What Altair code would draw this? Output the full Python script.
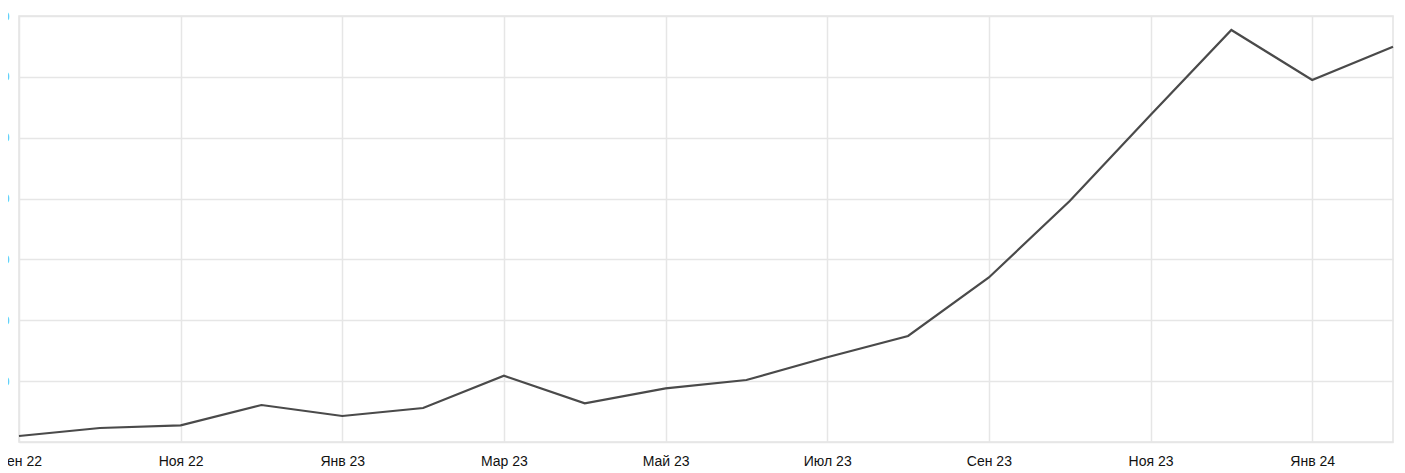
import altair as alt
import pandas as pd

months = ["Сен 22", "Окт 22", "Ноя 22", "Дек 22", "Янв 23", "Фев 23", "Мар 23",
          "Апр 23", "Май 23", "Июн 23", "Июл 23", "Авг 23", "Сен 23", "Окт 23",
          "Ноя 23", "Дек 23", "Янв 24", "Фев 24"]
values = [0.99, 2.30, 2.74, 6.08, 4.27, 5.59, 10.89, 6.36, 8.82, 10.19, 13.92,
          17.42, 27.03, 39.6, 53.73, 67.70, 59.48, 64.96]
shown_months = months[::2]
y_ticks = [0, 10, 20, 30, 40, 50, 60, 70]

df = pd.DataFrame({"month": months, "value": values})

chart = alt.Chart(df).mark_line(color="#4a4a4a", strokeWidth=2.2).encode(
    x=alt.X("month:N", sort=months, title=None,
            scale=alt.Scale(type="point", padding=0),
            axis=alt.Axis(values=shown_months, labelAngle=0, ticks=False, domain=False,
                          grid=True, gridColor="#e6e6e6", gridWidth=1.5,
                          labelPadding=12, labelFontSize=14, labelColor="#111111",
                          labelFont="Liberation Sans",
                          labelBaseline="top", labelOverlap=False)),
    y=alt.Y("value:Q", title=None,
            scale=alt.Scale(domain=[0, 70], nice=False),
            axis=alt.Axis(values=y_ticks, ticks=False, domain=False, labelPadding=10,
                          labelColor="#4FC3F7", labelFontSize=13,
                          labelFont="Liberation Sans", gridColor="#e6e6e6",
                          gridWidth=1.5,
                          labelExpr="datum.value == 0 ? '' : datum.label")),
).properties(
    width=1374, height=426,
    autosize=alt.AutoSizeParams(type="none"),
    padding={"left": 11, "top": 8, "right": 4, "bottom": 30},
).configure_view(stroke="#e3e3e3", strokeWidth=1.5)

chart.save("out.html", embed_options={"renderer": "svg", "actions": False})
